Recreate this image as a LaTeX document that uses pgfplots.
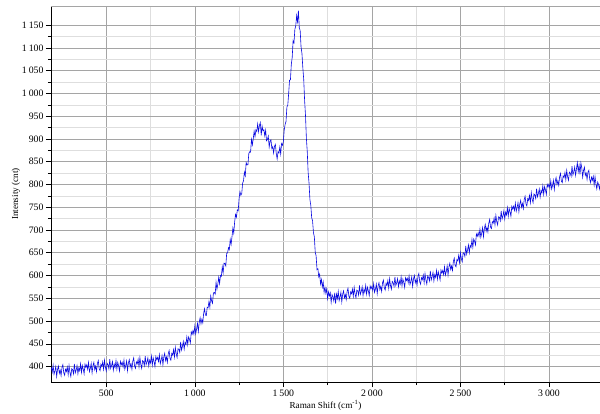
\documentclass[border=0pt]{standalone}
\usepackage{fontspec}
\setmainfont{Liberation Serif}
\usepackage{pgfplots}
\pgfplotsset{compat=1.18}
\definecolor{gmaj}{RGB}{165,165,165}
\definecolor{gmin}{RGB}{222,222,222}
\definecolor{spec}{RGB}{10,10,225}
\begin{document}
\begin{tikzpicture}
\begin{axis}[
  at={(51pt,31pt)}, anchor=south west,
  scale only axis, width=549pt, height=376pt,
  xmin=188, xmax=3288, ymin=366, ymax=1192,
  xtick={500,1000,...,3000}, ytick={400,450,...,1150},
  minor x tick num=1, minor y tick num=1,
  grid=both,
  major grid style={gmaj, line width=0.5pt},
  minor grid style={gmin, line width=0.5pt},
  axis x line*=bottom, axis y line*=left,
  axis line style={black, line width=0.6pt, -},
  tick align=outside,
  major tick length=5pt, minor tick length=3pt,
  tick style={black, line width=0.5pt},
  /pgf/number format/assume math mode=true,
  /pgf/number format/1000 sep={\kern0.2em},
  ticklabel style={font=\fontsize{9.8}{11}\selectfont},
  yticklabel style={xshift=1pt},
  xticklabel style={yshift=1pt},
  xlabel={Raman Shift (cm\textsuperscript{-1})},
  ylabel={Intensity (cnt)},
  label style={font=\fontsize{9.2}{10}\selectfont},
  xlabel style={yshift=3pt},
  ylabel style={yshift=-5pt},
  clip=true,
]
\draw[gmaj, line width=0.5pt] (rel axis cs:0,1) -- (rel axis cs:1,1);
\addplot[spec, line width=0.6pt, no markers] coordinates {
(190,398)(195,388)(200,403)(205,383)(210,390)(215,400)(220,378)(225,394)(230,401)(235,385)
(240,392)(245,380)(250,398)(255,404)(260,386)(265,381)(270,394)(275,389)(280,399)(285,382)
(290,402)(295,387)(300,378)(305,395)(310,393)(315,384)(320,406)(325,386)(330,392)(335,402)
(340,384)(345,397)(350,391)(355,406)(360,387)(365,402)(370,394)(375,384)(380,405)(385,398)
(390,404)(395,394)(400,409)(405,389)(410,396)(415,407)(420,386)(425,402)(430,409)(435,393)
(440,401)(445,389)(450,407)(455,413)(460,395)(465,391)(470,405)(475,400)(480,410)(485,394)
(490,414)(495,399)(500,390)(505,407)(510,404)(515,395)(520,416)(525,396)(530,402)(535,411)
(540,392)(545,405)(550,398)(555,413)(560,394)(565,409)(570,401)(575,390)(580,411)(585,404)
(590,409)(595,399)(600,414)(605,394)(610,402)(615,412)(620,391)(625,408)(630,415)(635,399)
(640,406)(645,394)(650,412)(655,419)(660,401)(665,396)(670,410)(675,406)(680,416)(685,399)
(690,420)(695,405)(700,396)(705,413)(710,411)(715,402)(720,423)(725,404)(730,410)(735,419)
(740,401)(745,414)(750,408)(755,423)(760,403)(765,419)(770,411)(775,400)(780,422)(785,415)
(790,420)(795,411)(800,426)(805,406)(810,414)(815,424)(820,404)(825,421)(830,429)(835,413)
(840,421)(845,409)(850,428)(855,435)(860,418)(865,414)(870,429)(875,425)(880,437)(885,421)
(890,442)(895,428)(900,420)(905,439)(910,438)(915,431)(920,454)(925,436)(930,444)(935,455)
(940,438)(945,453)(950,448)(955,465)(960,448)(965,465)(970,460)(975,452)(980,476)(985,471)
(990,479)(995,471)(1000,489)(1005,472)(1010,482)(1015,495)(1020,477)(1025,497)(1030,507)(1035,494)
(1040,504)(1045,496)(1050,517)(1055,527)(1060,513)(1065,512)(1070,530)(1075,529)(1080,543)(1085,530)
(1090,555)(1095,544)(1100,539)(1105,561)(1110,563)(1115,559)(1120,585)(1125,570)(1130,581)(1135,596)
(1140,582)(1145,600)(1150,598)(1155,619)(1160,606)(1165,627)(1170,626)(1175,621)(1180,649)(1185,649)
(1190,661)(1195,657)(1200,679)(1205,668)(1210,685)(1215,704)(1220,693)(1225,718)(1230,734)(1235,728)
(1240,744)(1245,742)(1250,769)(1255,784)(1260,776)(1265,780)(1270,803)(1275,808)(1280,827)(1285,819)
(1290,848)(1295,843)(1300,843)(1305,868)(1310,872)(1315,871)(1320,899)(1325,887)(1330,900)(1335,917)
(1340,905)(1345,920)(1350,916)(1355,933)(1360,916)(1365,930)(1370,936)(1375,908)(1380,928)(1385,918)
(1390,920)(1395,907)(1400,919)(1405,896)(1410,899)(1415,906)(1420,882)(1425,895)(1430,898)(1435,879)
(1440,883)(1445,869)(1450,884)(1455,888)(1460,868)(1465,856)(1470,872)(1475,869)(1480,882)(1485,867)
(1490,890)(1495,886)(1500,894)(1505,920)(1510,932)(1515,938)(1520,970)(1525,974)(1530,1000)(1535,1029)
(1540,1030)(1545,1064)(1550,1079)(1555,1116)(1560,1111)(1565,1141)(1570,1148)(1575,1171)(1580,1157)(1585,1182)
(1590,1144)(1595,1138)(1600,1102)(1605,1088)(1610,1056)(1615,1031)(1620,985)(1625,952)(1630,902)(1635,872)
(1640,826)(1645,803)(1650,767)(1655,754)(1660,727)(1665,720)(1670,694)(1675,685)(1680,651)(1685,643)
(1690,613)(1695,615)(1700,597)(1705,603)(1710,581)(1715,591)(1720,575)(1725,586)(1730,563)(1735,574)
(1740,561)(1745,571)(1750,549)(1755,564)(1760,555)(1765,562)(1770,541)(1775,558)(1780,553)(1785,544)
(1790,562)(1795,538)(1800,559)(1805,549)(1810,565)(1815,545)(1820,553)(1825,563)(1830,542)(1835,559)
(1840,566)(1845,551)(1850,558)(1855,547)(1860,565)(1865,572)(1870,554)(1875,550)(1880,564)(1885,560)
(1890,570)(1895,554)(1900,574)(1905,559)(1910,551)(1915,568)(1920,566)(1925,557)(1930,578)(1935,559)
(1940,565)(1945,575)(1950,556)(1955,570)(1960,563)(1965,578)(1970,559)(1975,574)(1980,566)(1985,556)
(1990,577)(1995,571)(2000,576)(2005,567)(2010,582)(2015,563)(2020,570)(2025,581)(2030,560)(2035,577)
(2040,584)(2045,569)(2050,576)(2055,565)(2060,584)(2065,590)(2070,573)(2075,568)(2080,583)(2085,578)
(2090,589)(2095,572)(2100,593)(2105,578)(2110,570)(2115,587)(2120,584)(2125,576)(2130,597)(2135,578)
(2140,584)(2145,593)(2150,575)(2155,588)(2160,581)(2165,597)(2170,577)(2175,592)(2180,585)(2185,574)
(2190,595)(2195,589)(2200,594)(2205,584)(2210,599)(2215,580)(2220,587)(2225,597)(2230,576)(2235,593)
(2240,600)(2245,584)(2250,591)(2255,579)(2260,598)(2265,604)(2270,586)(2275,581)(2280,595)(2285,591)
(2290,601)(2295,584)(2300,604)(2305,590)(2310,581)(2315,599)(2320,596)(2325,588)(2330,610)(2335,590)
(2340,597)(2345,607)(2350,588)(2355,602)(2360,596)(2365,611)(2370,592)(2375,608)(2380,600)(2385,590)
(2390,612)(2395,605)(2400,611)(2405,602)(2410,619)(2415,601)(2420,609)(2425,621)(2430,601)(2435,619)
(2440,627)(2445,613)(2450,621)(2455,611)(2460,631)(2465,638)(2470,622)(2475,619)(2480,635)(2485,632)
(2490,644)(2495,628)(2500,650)(2505,637)(2510,630)(2515,650)(2520,649)(2525,642)(2530,665)(2535,647)
(2540,656)(2545,667)(2550,650)(2555,666)(2560,662)(2565,679)(2570,662)(2575,680)(2580,675)(2585,667)
(2590,691)(2595,686)(2600,694)(2605,686)(2610,702)(2615,684)(2620,693)(2625,705)(2630,685)(2635,703)
(2640,712)(2645,697)(2650,706)(2655,696)(2660,715)(2665,723)(2670,706)(2675,703)(2680,718)(2685,715)
(2690,726)(2695,711)(2700,732)(2705,718)(2710,711)(2715,729)(2720,728)(2725,720)(2730,742)(2735,724)
(2740,731)(2745,742)(2750,724)(2755,739)(2760,733)(2765,749)(2770,730)(2775,747)(2780,740)(2785,730)
(2790,752)(2795,746)(2800,752)(2805,743)(2810,759)(2815,741)(2820,749)(2825,760)(2830,740)(2835,757)
(2840,765)(2845,750)(2850,758)(2855,747)(2860,767)(2865,774)(2870,757)(2875,753)(2880,769)(2885,765)
(2890,776)(2895,760)(2900,782)(2905,768)(2910,760)(2915,779)(2920,777)(2925,769)(2930,791)(2935,773)
(2940,780)(2945,790)(2950,772)(2955,787)(2960,781)(2965,797)(2970,778)(2975,795)(2980,788)(2985,778)
(2990,800)(2995,795)(3000,801)(3005,792)(3010,808)(3015,790)(3020,798)(3025,809)(3030,789)(3035,807)
(3040,815)(3045,800)(3050,808)(3055,798)(3060,817)(3065,824)(3070,807)(3075,804)(3080,819)(3085,815)
(3090,826)(3095,810)(3100,831)(3105,817)(3110,809)(3115,827)(3120,825)(3125,818)(3130,840)(3135,821)
(3140,828)(3145,838)(3150,820)(3155,834)(3160,848)(3165,828)(3170,842)(3175,822)(3180,847)(3185,837)
(3190,816)(3195,831)(3200,838)(3205,820)(3210,825)(3215,811)(3220,827)(3225,831)(3230,811)(3235,804)
(3240,816)(3245,809)(3250,818)(3255,799)(3260,817)(3265,801)(3270,790)(3275,805)(3280,800)(3285,790)
(3290,801)
};
\end{axis}
\pgfresetboundingbox
\useasboundingbox (0,0) rectangle (600pt,413pt);
\end{tikzpicture}
\end{document}
